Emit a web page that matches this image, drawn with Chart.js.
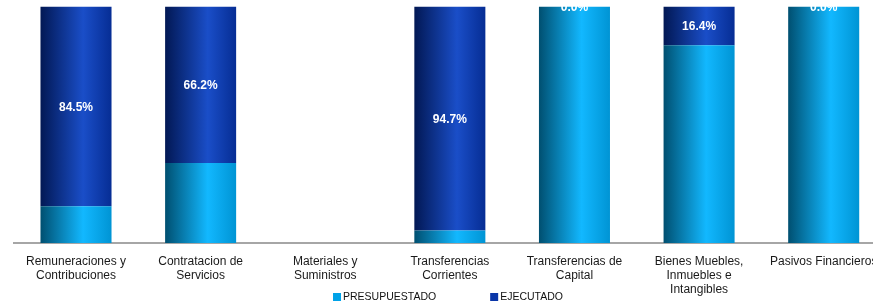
<!DOCTYPE html>
<html>
<head>
<meta charset="utf-8">
<script src="https://cdn.jsdelivr.net/npm/chart.js@4/dist/chart.umd.min.js"></script>
<style>
html,body{margin:0;padding:0;background:#fff;overflow:hidden;width:873px;height:307px;}
#wrap{position:absolute;left:0;top:0;width:900px;height:307px;}
</style>
</head>
<body>
<div id="wrap"><canvas id="c" width="900" height="307"></canvas></div>
<script>
const categories = [
  ["Remuneraciones y", "Contribuciones"],
  ["Contratacion de", "Servicios"],
  ["Materiales y", "Suministros"],
  ["Transferencias", "Corrientes"],
  ["Transferencias de", "Capital"],
  ["Bienes Muebles,", "Inmuebles e", "Intangibles"],
  ["Pasivos Financieros"]
];
const presupuestado = [15.5, 33.8, null, 5.3, 100.0, 83.6, 100.0];
const ejecutado = [84.5, 66.2, null, 94.7, 0.0, 16.4, 0.0];
const seriesNames = ["PRESUPUESTADO", "EJECUTADO"];

const BAR_FRAC = 0.57;
function cylinder(stops, flat) {
  return (ctx) => {
    const chart = ctx.chart;
    if (!chart.chartArea || ctx.type !== 'data') return flat;
    const xs = chart.scales.x;
    const x = xs.getPixelForValue(ctx.dataIndex);
    const w = xs.width / chart.data.labels.length * BAR_FRAC;
    const g = chart.ctx.createLinearGradient(x - w / 2, 0, x + w / 2, 0);
    g.addColorStop(0, stops[0]);
    g.addColorStop(0.6, stops[1]);
    g.addColorStop(1, stops[2]);
    return g;
  };
}

const valueLabels = {
  id: 'valueLabels',
  afterDatasetsDraw(chart) {
    const meta = chart.getDatasetMeta(1);
    const ctx = chart.ctx;
    ctx.save();
    ctx.font = 'bold 12px "Liberation Sans", Arial, sans-serif';
    ctx.fillStyle = '#ffffff';
    ctx.textAlign = 'center';
    ctx.textBaseline = 'middle';
    meta.data.forEach((el, i) => {
      const v = ejecutado[i];
      if (v === null || v === undefined) return;
      const y = (el.y + el.base) / 2;
      ctx.fillText(v.toFixed(1) + '%', el.x, y + 1);
    });
    ctx.restore();
  }
};

const bottomLegend = {
  id: 'bottomLegend',
  afterDraw(chart) {
    const ctx = chart.ctx;
    ctx.save();
    ctx.font = '10.5px "Liberation Sans", Arial, sans-serif';
    ctx.textBaseline = 'middle';
    ctx.textAlign = 'left';
    const colors = ['#00a2e8', '#0a36a8'];
    const box = 8, gap = 2, spacing = 54;
    const widths = seriesNames.map(t => ctx.measureText(t).width);
    const total = widths.reduce((a, w) => a + box + gap + w, 0) + spacing * (seriesNames.length - 1);
    let x = 448 - total / 2;
    const y = 297;
    seriesNames.forEach((t, i) => {
      ctx.fillStyle = colors[i];
      ctx.fillRect(x, y - box / 2, box, box);
      ctx.fillStyle = '#111';
      ctx.fillText(t, x + box + gap, y + 0.5);
      x += box + gap + widths[i] + spacing;
    });
    ctx.restore();
  }
};

new Chart(document.getElementById('c'), {
  type: 'bar',
  data: {
    labels: categories,
    datasets: [
      {
        label: seriesNames[0],
        data: presupuestado,
        backgroundColor: cylinder(['#004f70', '#12b8ff', '#0094d4'], '#00a2e8'),
        borderWidth: 0,
        barPercentage: BAR_FRAC,
        categoryPercentage: 1
      },
      {
        label: seriesNames[1],
        data: ejecutado,
        backgroundColor: cylinder(['#021854', '#1a4ec8', '#062d94'], '#0a36a8'),
        borderWidth: 0,
        barPercentage: BAR_FRAC,
        categoryPercentage: 1
      }
    ]
  },
  options: {
    responsive: false,
    animation: false,
    layout: { padding: { left: 13.7, right: 14, top: 6.5, bottom: 0 } },
    plugins: { legend: { display: false }, tooltip: { enabled: false } },
    scales: {
      x: {
        stacked: true,
        grid: { display: false, drawTicks: false },
        border: { display: true, color: '#a6a6a6', width: 2 },
        ticks: {
          color: '#1a1a1a',
          padding: 11,
          maxRotation: 0,
          autoSkip: false,
          font: { family: '"Liberation Sans", Arial, sans-serif', size: 12, lineHeight: 1.2 }
        },
        afterFit(s) { s.height = 64; }
      },
      y: {
        stacked: true,
        display: false,
        min: 0,
        max: 100
      }
    }
  },
  plugins: [valueLabels, bottomLegend]
});
</script>
</body>
</html>
